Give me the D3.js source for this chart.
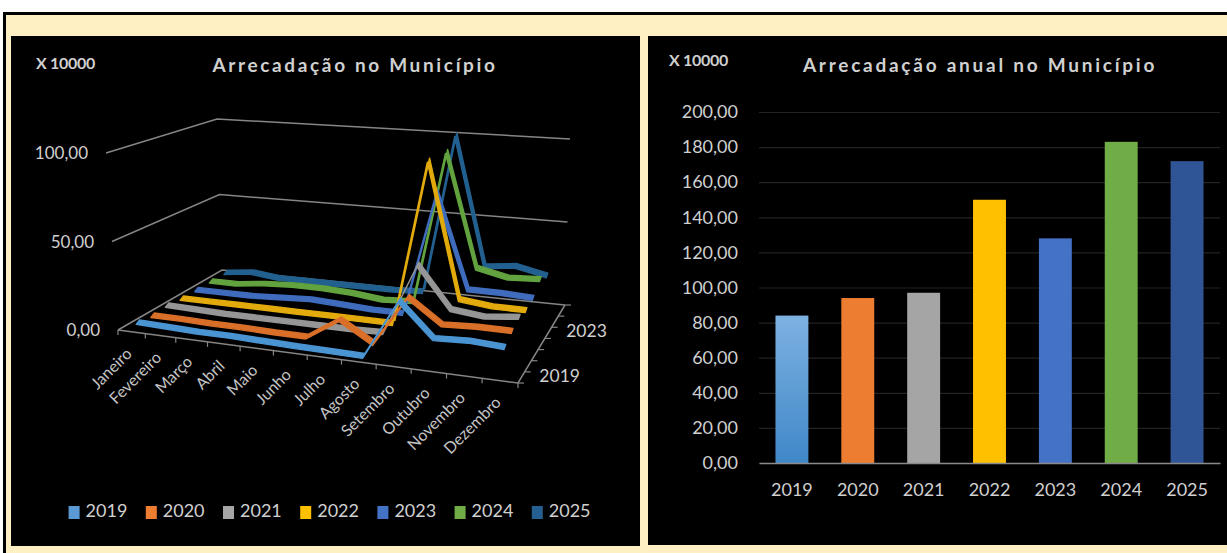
<!DOCTYPE html>
<html>
<head>
<meta charset="utf-8">
<script src="https://cdn.jsdelivr.net/npm/d3@7"></script>
<style>
body { margin: 0; background: #fff; overflow: hidden; }
svg { display: block; }
text { font-family: Lato, sans-serif; fill: #d0d0d0; }
</style>
</head>
<body>
<div id="chart"></div>
<script>
const months = ["Janeiro","Fevereiro","Março","Abril","Maio","Junho","Julho","Agosto","Setembro","Outubro","Novembro","Dezembro"];
const years = ["2019","2020","2021","2022","2023","2024","2025"];
const colors = ["#4a94d2","#d96f28","#969696","#e2aa0c","#3f6cbd","#62a33f","#22608f"];
const bar_colors = ["#5b9bd5","#ed7d31","#a5a5a5","#ffc000","#4472c4","#70ad47","#2f5597"];
const legend_colors = ["#5b9bd5","#ed7d31","#a5a5a5","#ffc000","#4472c4","#70ad47","#255e91"];

const v2019 = [3,2.5,2,2,1.5,1,0.8,0.5,33,15,16,15];
const v2020 = [2,2,1.5,1.5,1,1,13,2,30,17,18,18];
const v2021 = [3,2.5,2,2,2,2,2,2.5,43,20,18,20];
const v2022 = [2,2,2,2,2,2,2,2,98,20,18,18];
const v2023 = [2,2,2,3,4,3,2,2,75,20,20,19];
const v2024 = [2,2,4,5,5,4,2,3,95,27,23,24];
const v2025 = [2,4,2,2,2,2,2,3,101,22,24,20];
const monthly = [v2019,v2020,v2021,v2022,v2023,v2024,v2025];
const annual = [84,94,97,150,128,183,172];

const wall_ticks = [0,50,100];
const wall_labels = ["0,00","50,00","100,00"];
const bar_ticks = [0,20,40,60,80,100,120,140,160,180,200];
const depth_labels = {"2019":0,"2023":4};

const width = 1227, height = 553;
const svg = d3.select("#chart").append("svg").attr("width", width).attr("height", height);

// page frame and the two black panels
svg.append("rect").attr("x",3).attr("y",12).attr("width",width).attr("height",height).attr("fill","#000");
svg.append("rect").attr("x",6).attr("y",15).attr("width",width).attr("height",height).attr("fill","#fff0c4");
svg.append("rect").attr("x",11).attr("y",36).attr("width",629).attr("height",510).attr("fill","#000");
svg.append("rect").attr("x",648).attr("y",36).attr("width",width-648).attr("height",509).attr("fill","#000");

function addText(str, x, y, size, weight, spacing, anchor) {
    return svg.append("text").text(str)
        .attr("x",x).attr("y",y+3) // +3: middle baseline sits high with this font
        .attr("dominant-baseline","middle")
        .attr("text-anchor",anchor || "start")
        .style("font-size",size+"px")
        .style("font-weight",weight || "normal")
        .style("letter-spacing",(spacing || 0)+"px");
}

addText("X 10000",36,62,16,"bold",-0.3);
addText("X 10000",669,59,16,"bold",-0.3);
addText("Arrecadação no Município",355,64,19,"bold",2.65,"middle");
addText("Arrecadação anual no Município",980,64,19,"bold",2.75,"middle");

// ---- left chart: pseudo 3D lines ----
// floor and wall corners as seen in the picture: [level 0, level 100]
const front_left = [[118,330],[106,153]];
const back_left = [[222,270],[217,119]];
const front_right = [[518,383],[528,193]];
const back_right = [[565,305],[570,139]];

const uScale = d3.scalePow().exponent(1.08).domain([0,12]).range([0,1]);
const vScale = d3.scaleLinear().domain([0,7]).range([0,1]);
const wScale = d3.scaleLinear().domain([0,100]).range([0,1]);

function project(month, depth, value) {
    let u = uScale(month), v = vScale(depth), w = wScale(value);
    let level = (c, k) => c[0][k] + w*(c[1][k]-c[0][k]);
    let mix = (k) => {
        let front = level(front_left,k) + u*(level(front_right,k)-level(front_left,k));
        let back = level(back_left,k) + u*(level(back_right,k)-level(back_left,k));
        return front + v*(back-front);
    };
    return [mix(0), mix(1)];
}

// walls, only the two back faces have lines
let wallLine = d3.line();
wall_ticks.forEach((t,i) => {
    svg.append("path")
        .attr("d", wallLine([project(0,0,t),project(0,7,t),project(12,7,t)]))
        .attr("fill","none").attr("stroke","#858585").attr("stroke-width",1.5);
    let p = project(0,0,t);
    addText(wall_labels[i],p[0]-18,p[1]-1,17,"normal",0,"end");
});
svg.append("path")
    .attr("d", wallLine([project(0,0,0),project(12,0,0),project(12,7,0)]))
    .attr("fill","none").attr("stroke","#858585").attr("stroke-width",1.5);

// tick marks on the floor edges
d3.range(0,13).forEach(i => {
    let p = project(i,0,0);
    svg.append("line").attr("x1",p[0]).attr("y1",p[1]).attr("x2",p[0]).attr("y2",p[1]+5)
        .attr("stroke","#858585").attr("stroke-width",1.2);
});
d3.range(0,8).forEach(j => {
    let p = project(12,j,0);
    svg.append("line").attr("x1",p[0]).attr("y1",p[1]).attr("x2",p[0]+6).attr("y2",p[1])
        .attr("stroke","#858585").attr("stroke-width",1.2);
});

months.forEach((m,i) => {
    let p = project(i+0.5,0,0);
    let x = p[0]+2, y = p[1]+23;
    svg.append("text").text(m)
        .attr("transform",`translate(${x},${y}) rotate(-45)`)
        .attr("text-anchor","end")
        .style("font-size","16px")
        .style("fill","#c4c4c4");
});
Object.keys(depth_labels).forEach(y => {
    let p = project(12,depth_labels[y]+0.5,0);
    addText(y,p[0]+18,p[1]-3,17.5);
});

// each series is a flat ribbon, thick when level and thin when steep; back series drawn first
const half_depth = 0.12, half_rise = 0.7;
d3.range(years.length-1,-1,-1).forEach(j => {
    let top = monthly[j].map((val,i) => project(i+0.5,j+0.5+half_depth,val+half_rise));
    let bottom = monthly[j].map((val,i) => project(i+0.5,j+0.5-half_depth,val-half_rise)).reverse();
    svg.append("path")
        .attr("class","ribbon")
        .attr("d", d3.line()(top.concat(bottom))+"Z")
        .attr("fill",colors[j]).attr("stroke",colors[j]).attr("stroke-width",1.4)
        .attr("stroke-linejoin","round");
});

// legend
const legendScale = d3.scaleBand().domain(years).range([68.6,68.6+77.2*7]);
years.forEach((y,j) => {
    svg.append("rect").attr("x",legendScale(y)).attr("y",506).attr("width",11).attr("height",13)
        .attr("fill",legend_colors[j]);
    addText(y,legendScale(y)+17,509,18);
});

// ---- right chart: bars ----
const xScale = d3.scaleBand().domain(years).range([759,1220]).paddingInner(0.5).paddingOuter(0.25);
const yScale = d3.scaleLinear().domain([0,200]).range([463,112]);

const grad = svg.append("defs").append("linearGradient").attr("id","firstBar")
    .attr("x1",0).attr("y1",0).attr("x2",0).attr("y2",1);
grad.append("stop").attr("offset","0%").attr("stop-color","#7db1e2");
grad.append("stop").attr("offset","100%").attr("stop-color","#3f88c8");

let yAxis = d3.axisLeft(yScale).tickValues(bar_ticks).tickSize(-(1220-759)).tickPadding(21)
    .tickFormat(d => d3.format(".2f")(d).replace(".",","));
let y_ax = svg.append("g").attr("transform","translate(759,0)").call(yAxis);
y_ax.select(".domain").remove();
y_ax.selectAll("line").attr("stroke","#232323").attr("stroke-width",1.2);
y_ax.selectAll("text").style("font-size","18px").style("font-family","Lato, sans-serif").style("fill","#d0d0d0");

svg.append("g").selectAll("rect").data(annual).enter().append("rect")
    .attr("x",(d,i) => xScale(years[i]))
    .attr("y",d => yScale(d))
    .attr("width",xScale.bandwidth())
    .attr("height",d => yScale(0)-yScale(d))
    .attr("fill",(d,i) => i == 0 ? "url(#firstBar)" : bar_colors[i]);

let xAxis = d3.axisBottom(xScale).tickSize(0).tickPadding(20);
let x_ax = svg.append("g").attr("transform","translate(0,463)").call(xAxis);
x_ax.select(".domain").attr("stroke","#8a8a8a").attr("stroke-width",1.4);
x_ax.selectAll("text").style("font-size","18px").style("font-family","Lato, sans-serif").style("fill","#d0d0d0");
</script>
</body>
</html>
